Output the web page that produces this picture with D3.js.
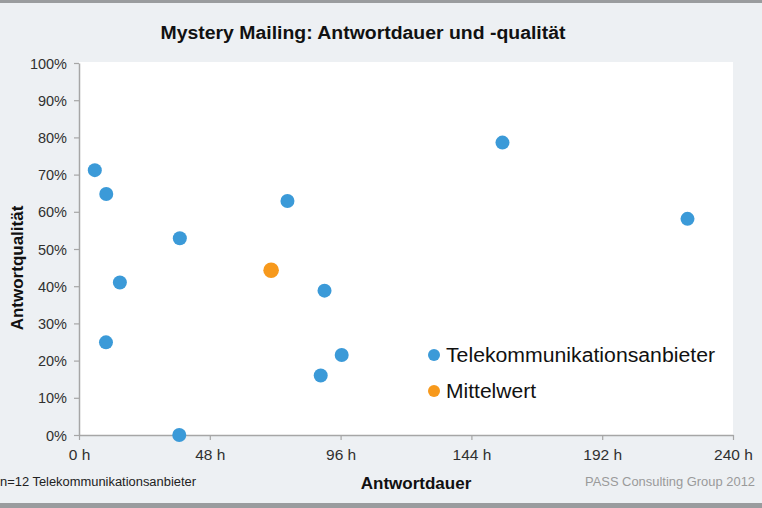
<!DOCTYPE html>
<html><head><meta charset="utf-8">
<script src="https://cdn.jsdelivr.net/npm/d3@7"></script>
<style>
body{margin:0;padding:0;background:#edf0f3;}
svg{display:block;font-family:"Liberation Sans",Arial,sans-serif;}
</style></head>
<body>
<svg id="c" width="762" height="508"></svg>
<script>
// Data
const providerHours   = [5.8, 10, 15, 9.9, 37, 36.8, 76.5, 155.4, 90.1, 223.3, 88.7, 96.4];
const providerQuality = [0.712, 0.648, 0.41, 0.249, 0.529, 0.0, 0.629, 0.786, 0.388, 0.581, 0.16, 0.215];
const meanHours   = [70.5];
const meanQuality = [0.443];
const xTicks = [0, 48, 96, 144, 192, 240];
const yTicks = [0, 0.1, 0.2, 0.3, 0.4, 0.5, 0.6, 0.7, 0.8, 0.9, 1.0];
const seriesNames = ["Telekommunikationsanbieter", "Mittelwert"];
const seriesColors = ["#3b9ad8", "#f7991c"];

const svg = d3.select("#c");
const W = 762, H = 508;
const m = {left:79, right:733, top:63, bottom:435};

svg.append("rect").attr("x",0).attr("y",0).attr("width",W).attr("height",H).attr("fill","#edf0f3");
svg.append("rect").attr("x",0).attr("y",0).attr("width",W).attr("height",3).attr("fill","#9a9c9e");
svg.append("rect").attr("x",0).attr("y",503).attr("width",W).attr("height",5).attr("fill","#9a9c9e");

// plot area
svg.append("rect").attr("x",m.left).attr("y",m.top-1).attr("width",m.right-m.left).attr("height",m.bottom-m.top+1).attr("fill","#ffffff");

const x = d3.scaleLinear().domain([0,240]).range([m.left, m.right]);
const y = d3.scaleLinear().domain([0,1]).range([m.bottom, m.top]);

// axes
const xAxis = svg.append("g").attr("transform",`translate(0,${m.bottom})`)
  .call(d3.axisBottom(x).tickValues(xTicks).tickSize(5).tickSizeOuter(0).tickPadding(6).tickFormat(d=>d+" h"));
const yAxis = svg.append("g").attr("transform",`translate(${m.left},0)`)
  .call(d3.axisLeft(y).tickValues(yTicks).tickSize(5).tickSizeOuter(0).tickPadding(7).tickFormat(d3.format(".0%")));
[xAxis,yAxis].forEach(g=>{
  g.select(".domain").attr("stroke","#a6a6a6").attr("stroke-width",1.5);
  g.selectAll(".tick line").attr("stroke","#a6a6a6").attr("stroke-width",1.2);
  g.selectAll("text").attr("fill","#303030").attr("font-size",14.5).attr("font-family","Liberation Sans, Arial, sans-serif");
});
yAxis.selectAll("text").attr("dy","0.35em");
xAxis.selectAll("text").attr("font-size",15.5).attr("dy","0.9em");

// points
svg.append("g").selectAll("circle").data(providerHours.map((h,i)=>[h,providerQuality[i]]))
  .join("circle").attr("cx",d=>x(d[0])).attr("cy",d=>y(d[1])).attr("r",7).attr("fill",seriesColors[0]);
svg.append("g").selectAll("circle").data(meanHours.map((h,i)=>[h,meanQuality[i]]))
  .join("circle").attr("cx",d=>x(d[0])).attr("cy",d=>y(d[1])).attr("r",7.8).attr("fill",seriesColors[1]);

// title
svg.append("text").attr("x",363).attr("y",39).attr("text-anchor","middle")
  .attr("font-size",17.5).attr("font-weight","bold").attr("fill","#111")
  .attr("textLength",405).attr("lengthAdjust","spacingAndGlyphs")
  .text("Mystery Mailing: Antwortdauer und -qualität");

// axis titles
svg.append("text").attr("transform","translate(23,268) rotate(-90)").attr("text-anchor","middle")
  .attr("font-size",17).attr("font-weight","bold").attr("fill","#111").text("Antwortqualität");
svg.append("text").attr("x",416).attr("y",489).attr("text-anchor","middle")
  .attr("font-size",17).attr("font-weight","bold").attr("fill","#111").text("Antwortdauer");

// footnotes
svg.append("text").attr("x",0).attr("y",486).attr("font-size",12.5).attr("fill","#222")
  .attr("textLength",196).attr("lengthAdjust","spacingAndGlyphs").text("n=12 Telekommunikationsanbieter");
svg.append("text").attr("x",755).attr("y",486).attr("text-anchor","end").attr("font-size",13).attr("fill","#9a9a9a")
  .attr("textLength",170).attr("lengthAdjust","spacingAndGlyphs").text("PASS Consulting Group 2012");

// legend
const legendWidths = [269, 90];
const leg = svg.append("g");
seriesNames.forEach((n,i)=>{
  const yy = 355 + i*36;
  leg.append("circle").attr("cx",434).attr("cy",yy).attr("r",6).attr("fill",seriesColors[i]);
  leg.append("text").attr("x",446).attr("y",yy+7).attr("font-size",20).attr("fill","#111")
    .attr("textLength",legendWidths[i]).attr("lengthAdjust","spacingAndGlyphs").text(n);
});
</script>
</body></html>
